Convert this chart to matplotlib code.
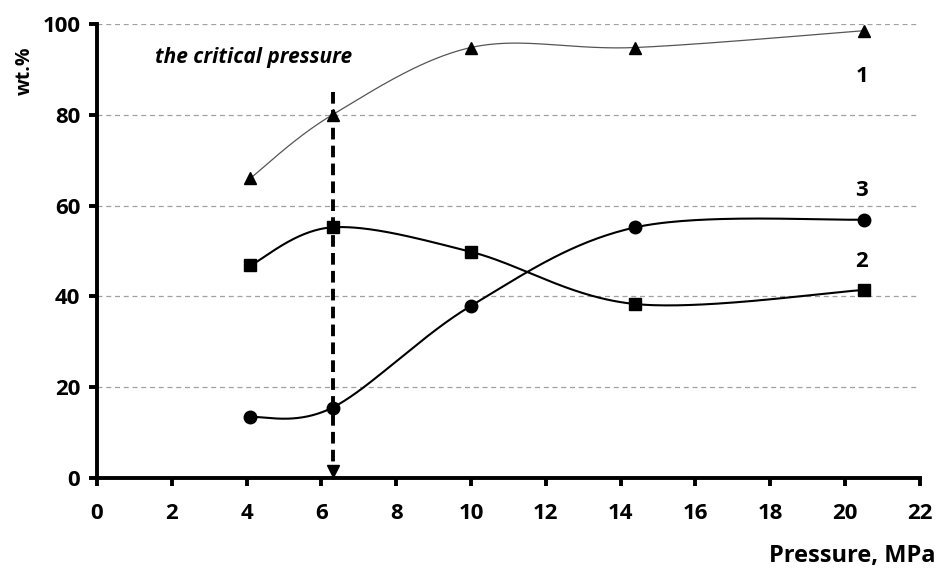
import numpy as np
import matplotlib.pyplot as plt

plt.rcParams['font.family'] = ['Open Sans', 'DejaVu Sans']

pressure = [4.1, 6.3, 10.0, 14.4, 20.5]
series1 = [66.0, 80.0, 94.8, 94.8, 98.5]   # triangles
series2 = [46.8, 55.2, 49.8, 38.3, 41.4]   # squares
series3 = [13.4, 15.5, 37.9, 55.2, 56.9]   # circles

critical_p = 6.3
arrow_top = 85
labels = {'1': (20.45, 88.5), '3': (20.45, 63.2), '2': (20.45, 47.6)}


def smooth(x, y, n=60):
    """Excel-like smoothed line: Catmull-Rom converted to cubic Beziers."""
    p = np.column_stack([x, y])
    p = np.vstack([p[0], p, p[-1]])
    out = []
    for i in range(1, len(p) - 2):
        p0, p1, p2, p3 = p[i], p[i] + (p[i + 1] - p[i - 1]) / 6, p[i + 1] - (p[i + 2] - p[i]) / 6, p[i + 1]
        t = np.linspace(0, 1, n)[:, None]
        out.append((1 - t) ** 3 * p0 + 3 * (1 - t) ** 2 * t * p1 + 3 * (1 - t) * t ** 2 * p2 + t ** 3 * p3)
    out = np.vstack(out)
    return out[:, 0], out[:, 1]


fig = plt.figure(figsize=(9.36, 5.69), dpi=100)
ax = fig.add_axes([0.1036, 0.160, 0.879, 0.798])

ax.set_xlim(0, 22)
ax.set_ylim(0, 100)
ax.set_xticks(range(0, 23, 2))
ax.set_yticks(range(0, 101, 20))
for y in range(20, 101, 20):
    ax.axhline(y, color='#a0a0a0', lw=0.9, ls=(0, (4, 3)), zorder=0)

# critical pressure arrow
ax.plot([critical_p, critical_p], [arrow_top, 2.5], color='black', lw=2.8,
        ls=(0, (3, 1.6)), zorder=1)
ax.plot([critical_p], [1.6], marker='v', color='black', ms=9, zorder=1)

sx, sy = smooth(pressure, series1)
ax.plot(sx, sy, color='#555555', lw=0.9, zorder=2)
sx, sy = smooth(pressure, series2)
ax.plot(sx, sy, color='black', lw=1.5, zorder=2)
sx, sy = smooth(pressure, series3)
ax.plot(sx, sy, color='black', lw=1.5, zorder=2)

ax.plot(pressure, series1, ls='none', marker='^', color='black', ms=9, zorder=3)
ax.plot(pressure, series2, ls='none', marker='s', color='black', ms=9, zorder=3)
ax.plot(pressure, series3, ls='none', marker='o', color='black', ms=9, zorder=3)

for k, (x, y) in labels.items():
    ax.text(x, y, k, fontsize=16, fontweight='bold', ha='center', va='center')

ax.text(1.55, 92.7, 'the critical pressure', fontsize=15, fontweight='bold',
        fontstyle='italic', va='center')

for s in ['top', 'right']:
    ax.spines[s].set_visible(False)
for s in ['left', 'bottom']:
    ax.spines[s].set_linewidth(2.8)
ax.tick_params(width=2.8, length=6, labelsize=16, pad=6)
for t in ax.get_xticklabels() + ax.get_yticklabels():
    t.set_fontweight('bold')
ax.tick_params(axis='x', pad=12)

fig.text(0.027, 0.875, 'wt.%', rotation=90, fontsize=14, fontweight='bold',
         ha='center', va='center')
fig.text(0.999, 0.022, 'Pressure, MPa', fontsize=17, fontweight='bold',
         ha='right', va='center')

fig.savefig('out.png', dpi=100)
